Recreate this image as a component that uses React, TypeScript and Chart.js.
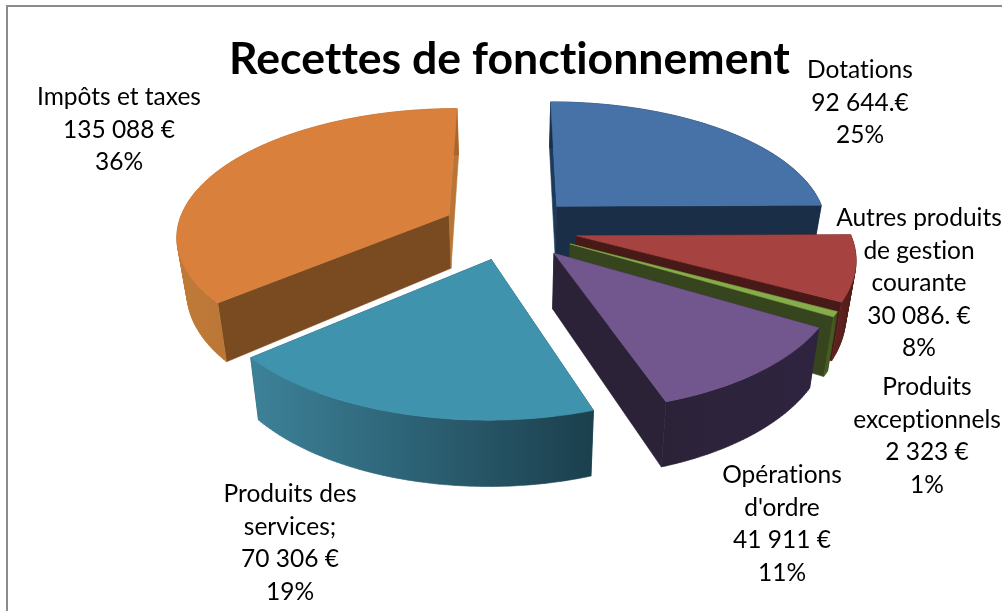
import React, { useEffect, useRef } from "react";
import { Chart, registerables } from "chart.js";

Chart.register(...registerables);

const titleText = "Recettes de fonctionnement";
const categories = ["Dotations", "Autres produits de gestion courante", "Produits exceptionnels", "Opérations d'ordre", "Produits des services;", "Impôts et taxes"];
const amounts = [92644, 30086, 2323, 41911, 70306, 135088];
const categoryLines = [["Dotations"], ["Autres produits", "de gestion", "courante"], ["Produits", "exceptionnels"], ["Opérations", "d'ordre"], ["Produits des", "services;"], ["Impôts et taxes"]];
const amountLabels = ["92 644.€", "30 086. €", "2 323 €", "41 911 €", "70 306 €", "135 088 €"];
const percentLabels = ["25%", "8%", "1%", "11%", "19%", "36%"];

const topColors = ["#4672a8", "#a64341", "#86ad49", "#72568e", "#3f93ad", "#d8803c"];
const wallColors = ["#1a2e47", "#481a17", "#37451f", "#2c2238", "#1f4a58", "#7a4b21"];
const sideColors = ["#1b3a5c", "#481a17", "#37451f", "#2c2238", "#1f4a58", "#b87535"];
const outerLeft = ["#1a2e47", "#5c201d", "#465a22", "#2c2238", "#3d8299", "#c07a38"];
const outerRight = ["#1a2e47", "#481a17", "#37451f", "#2e2440", "#1b3f4d", "#a8652c"];
const labelAnchors = [[860, 70], [919, 218], [927, 387], [782, 475], [290, 494], [119, 97]];

const SCENE = { cx: 510, cy: 228, a: 272, f: 126, p: 0.15, depth: 54, shrink: 0.97 };
const DRAW_ORDER = [0, 5, 1, 2, 3, 4];
const LINE_HEIGHT = 32.6;

function project(X: number, Y: number, bottom: boolean): [number, number] {
  const { cx, cy, a, f, p, depth, shrink } = SCENE;
  const s = 1 / (1 + p * Y);
  let x = cx + a * X * s;
  let y = cy - f * Y * s;
  if (bottom) {
    x = cx + (x - cx) * shrink;
    y += depth * s;
  }
  return [x, y];
}

function tracePoly(ctx: CanvasRenderingContext2D, pts: [number, number][]) {
  pts.forEach((q, i) => (i ? ctx.lineTo(q[0], q[1]) : ctx.moveTo(q[0], q[1])));
  ctx.closePath();
}

function paint(ctx: CanvasRenderingContext2D, fill: string | CanvasGradient) {
  ctx.fillStyle = fill;
  ctx.strokeStyle = fill;
  ctx.lineWidth = 0.6;
  ctx.fill();
  ctx.stroke();
}

function fillPoly(ctx: CanvasRenderingContext2D, pts: [number, number][], fill: string | CanvasGradient) {
  ctx.beginPath();
  tracePoly(ctx, pts);
  paint(ctx, fill);
}

function signedArea(pts: [number, number][]) {
  let area = 0;
  pts.forEach((q, i) => {
    const n = pts[(i + 1) % pts.length];
    area += q[0] * n[1] - n[0] * q[1];
  });
  return area;
}

const pie3d = {
  id: "pie3d",
  beforeDraw(chart: any) {
    const ctx = chart.ctx;
    ctx.textRendering = "optimizeSpeed";
    ctx.save();
    ctx.fillStyle = "#ffffff";
    ctx.fillRect(0, 0, chart.width, chart.height);
    ctx.strokeStyle = "#8c8c8c";
    ctx.lineWidth = 2;
    ctx.strokeRect(7, 6, chart.width + 20, chart.height + 20);
    ctx.restore();
  },
  beforeDatasetsDraw(chart: any) {
    const ctx = chart.ctx;
    const arcs = chart.getDatasetMeta(0).data;
    ctx.save();
    DRAW_ORDER.forEach((i) => {
      const el = arcs[i];
      const e = el.options.offset / el.outerRadius;
      const mid = (el.startAngle + el.endAngle) / 2;
      const ox = e * Math.cos(mid);
      const oy = -e * Math.sin(mid);
      const steps = Math.max(4, Math.ceil((el.endAngle - el.startAngle) * 60));
      const rim: [number, number][] = [];
      for (let k = 0; k <= steps; k++) {
        const t = el.startAngle + ((el.endAngle - el.startAngle) * k) / steps;
        rim.push([ox + Math.cos(t), oy - Math.sin(t)]);
      }
      const topRim = rim.map((r) => project(r[0], r[1], false));
      const botRim = rim.map((r) => project(r[0], r[1], true));
      const apexT = project(ox, oy, false);
      const apexB = project(ox, oy, true);
      // radial walls: the wall that faces the viewer is painted with wallColors
      const frontIsStart = i === 5;
      fillPoly(ctx, [apexT, topRim[0], botRim[0], apexB], frontIsStart ? wallColors[i] : sideColors[i]);
      fillPoly(ctx, [apexT, topRim[steps], botRim[steps], apexB], frontIsStart ? sideColors[i] : wallColors[i]);
      // outer wall: one path of same-winding quads, so no seams and a filled silhouette
      const xs = topRim.map((q) => q[0]);
      const grad = ctx.createLinearGradient(Math.min(...xs), 0, Math.max(...xs), 0);
      grad.addColorStop(0, outerLeft[i]);
      grad.addColorStop(1, outerRight[i]);
      ctx.beginPath();
      for (let k = 0; k < steps; k++) {
        const quad: [number, number][] = [topRim[k], topRim[k + 1], botRim[k + 1], botRim[k]];
        tracePoly(ctx, signedArea(quad) < 0 ? quad.reverse() : quad);
      }
      paint(ctx, grad);
      // top face
      fillPoly(ctx, [apexT, ...topRim], el.options.backgroundColor);
    });
    ctx.restore();
    return false;
  },
  afterDraw(chart: any) {
    const ctx = chart.ctx;
    ctx.save();
    ctx.fillStyle = "#000000";
    ctx.font = "24.5px Lato, 'Open Sans', sans-serif";
    ctx.textAlign = "center";
    ctx.textBaseline = "middle";
    categories.forEach((_, i) => {
      const lines = [...categoryLines[i], amountLabels[i], percentLabels[i]];
      const [x, y] = labelAnchors[i];
      lines.forEach((line, j) => ctx.fillText(line, x, y + j * LINE_HEIGHT));
    });
    ctx.restore();
  },
};

export default function App() {
  const ref = useRef<HTMLCanvasElement | null>(null);
  useEffect(() => {
    if (!ref.current) return;
    const chart = new Chart(ref.current, {
      type: "pie",
      data: {
        labels: categories,
        datasets: [{ data: amounts, backgroundColor: topColors, offset: 58.3, borderWidth: 0 }],
      },
      options: {
        responsive: false,
        animation: false,
        layout: { padding: { left: 17 } },
        plugins: {
          legend: { display: false },
          tooltip: { enabled: false },
          title: {
            display: true,
            text: titleText,
            fullSize: false,
            color: "#000000",
            font: { family: "Lato, 'Open Sans', sans-serif", size: 44.6, weight: "bold", lineHeight: 1.2 },
            padding: { top: 33, bottom: 0 },
          },
        },
      },
      plugins: [pie3d],
    } as any);
    return () => chart.destroy();
  }, []);
  return <canvas ref={ref} width={1002} height={611} style={{ position: "fixed", left: 0, top: 0, display: "block" }} />;
}
